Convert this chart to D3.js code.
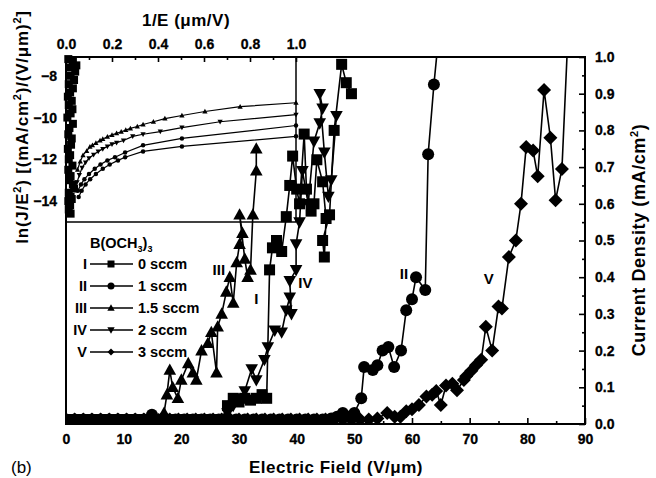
<!DOCTYPE html>
<html lang="en">
<head>
<meta charset="UTF-8">
<title>Field emission B(OCH3)3</title>
<script src="https://d3js.org/d3.v7.min.js"></script>
<style>
body{margin:0;background:#fff;}
svg text{font-family:"Liberation Sans",Arial,sans-serif;font-weight:bold;fill:#000;}
</style>
</head>
<body>
<script>
// ---- main plot: current density (mA/cm2) vs electric field (V/um)
var fieldI = [0,1.5,3,4.5,6,7.5,9,10.5,12,13.5,15,16.5,18,19.5,21,22.5,24,25.5,27,28,29,30,31,32,33,34,34.8,35.3,35.8,36.5,37.4,38.2,38.8,39.3,40,40.5,41.3,41.7,42.5,43,43.5,44.5,45.1,44.8,44.5,45.7,46.5,47.8,48.6,49.5];
var jI = [0.012,0.012,0.012,0.012,0.012,0.012,0.012,0.012,0.012,0.012,0.012,0.012,0.012,0.012,0.012,0.012,0.012,0.012,0.012,0.05,0.07,0.06,0.07,0.065,0.07,0.08,0.07,0.42,0.48,0.5,0.47,0.565,0.65,0.73,0.64,0.6,0.79,0.64,0.58,0.6,0.72,0.66,0.56,0.455,0.5,0.57,0.8,0.98,0.93,0.9];

var fieldII = [0,1.5,3,4.5,6,7.5,9,10.5,12,13.5,14.9,16,17.5,19,20.5,22,23.5,25,26.5,28,29.5,31,32.5,34,35.5,37,38.5,40,41.5,43,44.5,46,47,48,49,50,51.2,51.7,53.2,54,54.9,55.9,56.9,58.1,59,60,60.7,62.3,62.8,63.8,65.2];
var jII = [0.012,0.012,0.012,0.012,0.012,0.012,0.012,0.012,0.012,0.012,0.025,0.012,0.012,0.012,0.012,0.012,0.012,0.012,0.012,0.012,0.012,0.012,0.012,0.012,0.012,0.012,0.012,0.012,0.012,0.012,0.012,0.015,0.02,0.03,0.02,0.03,0.07,0.155,0.147,0.16,0.2,0.21,0.155,0.2,0.31,0.34,0.4,0.365,0.735,0.925,1.15];

var fieldIII = [0,1.5,3,4.5,6,7.5,9,10.5,12,13.5,15,16,17,17.5,18,18.5,19.4,20,21.2,22,22.6,23.5,24.6,25.2,26.1,26.3,27,27.8,28.4,29,29.6,30.1,30.6,30.1,31,31.5,32,32.4,33,33];
var jIII = [0.012,0.012,0.012,0.012,0.012,0.012,0.012,0.012,0.012,0.012,0.012,0.012,0.03,0.08,0.147,0.1,0.07,0.12,0.165,0.14,0.12,0.2,0.22,0.25,0.14,0.265,0.3,0.36,0.4,0.33,0.44,0.49,0.52,0.57,0.45,0.4,0.42,0.57,0.69,0.75];

var fieldIV = [0,1.5,3,4.5,6,7.5,9,10.5,12,13.5,15,16.5,18,19.5,21,22.5,24,25.5,27,28,29,30,31,32.2,33,34.4,35,36.2,37.4,38.2,38.8,39.1,38.8,39.9,39.9,40.5,41,42,43,44,44.5,44,44.8,45.5,46,46.9];
var jIV = [0.012,0.012,0.012,0.012,0.012,0.012,0.012,0.012,0.012,0.012,0.012,0.012,0.012,0.012,0.012,0.012,0.012,0.012,0.012,0.03,0.05,0.07,0.09,0.15,0.12,0.175,0.21,0.255,0.25,0.31,0.345,0.3,0.39,0.42,0.49,0.55,0.69,0.6,0.77,0.82,0.86,0.9,0.74,0.62,0.665,0.84];

var fieldV = [0,1.5,3,4.5,6,7.5,9,10.5,12,13.5,15,16.5,18,19.5,21,22.5,24,25.5,27,28.5,30,31.5,33,34.5,36,37.5,39,40.5,42,43.5,45,46.5,48,49.5,51,52.5,54,55.7,57,58,59,60,61.2,62.5,63.5,64.2,65,65.9,67,67.8,69,69.4,70.3,71.1,72,72.8,73.9,75,75.6,76.8,78,78.9,79.8,81,81.8,82.9,84,84.9,86,87.3];
var jV = [0.012,0.012,0.012,0.012,0.012,0.012,0.012,0.012,0.012,0.012,0.012,0.012,0.012,0.012,0.012,0.012,0.012,0.012,0.012,0.012,0.012,0.012,0.012,0.012,0.012,0.012,0.012,0.012,0.012,0.012,0.012,0.012,0.012,0.012,0.012,0.012,0.015,0.03,0.02,0.02,0.035,0.04,0.052,0.075,0.08,0.09,0.052,0.105,0.11,0.092,0.12,0.13,0.145,0.16,0.175,0.265,0.2,0.32,0.315,0.455,0.5,0.6,0.755,0.745,0.675,0.91,0.78,0.61,0.695,1.15];

// ---- inset: ln(J/E^2) vs 1/E
var invA = [1.0,0.757,0.604,0.504,0.43,0.38,0.335,0.31,0.28,0.26,0.24,0.22,0.2,0.18,0.16,0.148,0.13,0.115,0.104,0.09,0.074,0.062,0.05];
var lnA = [-9.29,-9.48,-9.71,-9.9,-10.05,-10.2,-10.33,-10.43,-10.52,-10.6,-10.68,-10.75,-10.83,-10.92,-11.03,-11.1,-11.22,-11.32,-11.4,-11.6,-11.8,-12.1,-12.5];
var invB = [1.0,0.67,0.504,0.41,0.335,0.29,0.25,0.22,0.2,0.18,0.16,0.14,0.12,0.1,0.085,0.07,0.058,0.048];
var lnB = [-9.86,-10.2,-10.48,-10.67,-10.8,-10.9,-11.1,-11.2,-11.28,-11.38,-11.5,-11.62,-11.78,-11.95,-12.15,-12.4,-12.75,-13.1];
var invC = [1.0,0.504,0.335,0.257,0.213,0.18,0.15,0.125,0.1,0.08,0.065,0.052];
var lnC = [-10.38,-11.0,-11.33,-11.67,-11.9,-12.05,-12.25,-12.45,-12.7,-12.95,-13.2,-13.5];
var invD = [1.0,0.504,0.335,0.257,0.226,0.19,0.16,0.13,0.105,0.085,0.068,0.055];
var lnD = [-10.9,-11.38,-11.62,-11.9,-12.05,-12.25,-12.45,-12.7,-12.95,-13.2,-13.5,-13.8];
// dense cloud at high field (small 1/E)
var invE = [0.01,0.03,0.045,0.015,0.04,0.02,0.035,0.012,0.03,0.018,0.008,0.025,0.012,0.028,0.02,0.006,0.03,0.015,0.01,0.025,0.022,0.008,0.018,0.012,0.028,0.01,0.02,0.015,0.03,0.035,0.012,0.02,0.01,0.025,0.018,0.012,0.02];
var lnE = [-7.2,-7.3,-7.5,-7.6,-7.8,-8.0,-8.2,-8.4,-8.6,-8.8,-9.0,-9.2,-9.4,-9.6,-9.8,-10.0,-10.3,-10.5,-10.8,-11.0,-11.3,-11.5,-11.8,-12.0,-12.3,-12.5,-12.8,-13.0,-13.2,-13.4,-13.6,-13.8,-14.0,-13.9,-14.2,-14.4,-14.6];

var bottomTicks = [0,10,20,30,40,50,60,70,80,90];
var rightTicks = [0,0.1,0.2,0.3,0.4,0.5,0.6,0.7,0.8,0.9,1.0];
var topTicks = [0,0.2,0.4,0.6,0.8,1.0];
var leftTicks = [-8,-10,-12,-14];

var legendNames = ['I','II','III','IV','V'];
var legendText = ['0 sccm','1 sccm','1.5 sccm','2 sccm','3 sccm'];

var width = 656, height = 478;
var svg = d3.select('body').append('svg').attr('width',width).attr('height',height);

var x = d3.scaleLinear().domain([0,90]).range([66,585]);
var y = d3.scaleLinear().domain([0,1]).range([424,57]);
var xi = d3.scaleLinear().domain([0,1]).range([66,296]);
var yi = d3.scaleLinear().domain([-15,-7.1]).range([222,57]);

// marker shapes
function marker(type, s){
    var h = s/2;
    if(type=='square') return 'M'+(-h)+','+(-h)+'h'+s+'v'+s+'h'+(-s)+'Z';
    if(type=='circle') return 'M'+h+',0A'+h+','+h+' 0 1,1 '+(-h)+',0A'+h+','+h+' 0 1,1 '+h+',0Z';
    if(type=='up') return 'M0,'+(-h*1.1)+'L'+(h*1.05)+','+(h*0.8)+'L'+(-h*1.05)+','+(h*0.8)+'Z';
    if(type=='down') return 'M0,'+(h*1.1)+'L'+(h*1.05)+','+(-h*0.8)+'L'+(-h*1.05)+','+(-h*0.8)+'Z';
    if(type=='diamond') return 'M0,'+(-h)+'L'+h+',0L0,'+h+'L'+(-h)+',0Z';
}

svg.append('clipPath').attr('id','clipMain').append('rect')
    .attr('x',66).attr('y',57).attr('width',519).attr('height',367);

var mainSeries = [
    {xs:fieldI, ys:jI, type:'square', size:11},
    {xs:fieldII, ys:jII, type:'circle', size:12},
    {xs:fieldIII, ys:jIII, type:'up', size:12},
    {xs:fieldIV, ys:jIV, type:'down', size:12},
    {xs:fieldV, ys:jV, type:'diamond', size:14}
];

var plot = svg.append('g').attr('clip-path','url(#clipMain)');
var line = d3.line();

mainSeries.forEach(function(s){
    var pts = s.xs.map(function(d,i){ return [x(d), y(s.ys[i])]; });
    plot.append('path').attr('d',line(pts))
        .attr('fill','none').attr('stroke','#000').attr('stroke-width',1.6);
    plot.selectAll(null).data(pts).enter().append('path')
        .attr('transform',function(d){ return 'translate('+d[0]+','+d[1]+')'; })
        .attr('d',marker(s.type,s.size)).attr('fill','#000');
});

// inset
var insetSeries = [
    {xs:invA, ys:lnA, type:'up', size:5},
    {xs:invB, ys:lnB, type:'down', size:5},
    {xs:invC, ys:lnC, type:'circle', size:4.5},
    {xs:invD, ys:lnD, type:'circle', size:4.5},
    {xs:invE, ys:lnE, type:'square', size:8}
];
var inset = svg.append('g');
insetSeries.forEach(function(s){
    var pts = s.xs.map(function(d,i){ return [xi(d), yi(s.ys[i])]; });
    inset.append('path').attr('d',line(pts))
        .attr('fill','none').attr('stroke','#000').attr('stroke-width',1.2);
    inset.selectAll(null).data(pts).enter().append('path')
        .attr('transform',function(d){ return 'translate('+d[0]+','+d[1]+')'; })
        .attr('d',marker(s.type,s.size)).attr('fill','#000');
});
inset.append('line').attr('x1',xi(1)).attr('x2',xi(1)).attr('y1',57).attr('y2',222)
    .attr('stroke','#000').attr('stroke-width',1.5);
inset.append('line').attr('x1',66).attr('x2',xi(1)).attr('y1',222).attr('y2',222)
    .attr('stroke','#000').attr('stroke-width',1.5);

// axes
function styleAxis(g){
    g.select('.domain').remove();
    g.attr('font-family',null).attr('font-size',14);
    g.selectAll('line').attr('stroke-width',1.6);
    g.selectAll('text').attr('stroke','#000').attr('stroke-width',0.3);
}
function minor(gen, vals){
    return gen.tickValues(vals).tickSizeInner(-3).tickSizeOuter(0).tickFormat('');
}

svg.append('g').attr('transform','translate(0,424)')
    .call(d3.axisBottom(x).tickValues(bottomTicks).tickSizeInner(-6).tickSizeOuter(0).tickPadding(10).tickFormat(d3.format('d')))
    .call(styleAxis);
svg.append('g').attr('transform','translate(0,424)')
    .call(minor(d3.axisBottom(x), [5,15,25,35,45,55,65,75,85])).call(styleAxis);

svg.append('g').attr('transform','translate(585,0)')
    .call(d3.axisRight(y).tickValues(rightTicks).tickSizeInner(-6).tickSizeOuter(0).tickPadding(10).tickFormat(d3.format('.1f')))
    .call(styleAxis);
svg.append('g').attr('transform','translate(585,0)')
    .call(minor(d3.axisRight(y), [0.05,0.15,0.25,0.35,0.45,0.55,0.65,0.75,0.85,0.95])).call(styleAxis);

svg.append('g').attr('transform','translate(0,57)')
    .call(d3.axisTop(xi).tickValues(topTicks).tickSizeInner(-5).tickSizeOuter(0).tickPadding(8).tickFormat(d3.format('.1f')))
    .call(styleAxis);
svg.append('g').attr('transform','translate(0,57)')
    .call(minor(d3.axisTop(xi), [0.1,0.3,0.5,0.7,0.9])).call(styleAxis);

svg.append('g').attr('transform','translate(66,0)')
    .call(d3.axisLeft(yi).tickValues(leftTicks).tickSizeInner(-5).tickSizeOuter(0).tickPadding(9).tickFormat(d3.format('d')))
    .call(styleAxis);
svg.append('g').attr('transform','translate(66,0)')
    .call(minor(d3.axisLeft(yi), [-9,-11,-13])).call(styleAxis);

svg.append('rect').attr('x',66).attr('y',57).attr('width',519).attr('height',367)
    .attr('fill','none').attr('stroke','#000').attr('stroke-width',2);

// titles
svg.append('text').attr('x',186).attr('y',26).attr('text-anchor','middle').attr('font-size',17)
    .style('letter-spacing','0.5px').text('1/E (\u03bcm/V)');
svg.append('text').attr('x',336).attr('y',473).attr('text-anchor','middle').attr('font-size',17)
    .style('letter-spacing','0.5px').text('Electric Field (V/\u03bcm)');
svg.append('text').attr('x',11).attr('y',473).attr('font-size',17)
    .style('font-weight','normal').text('(b)');

var lt = svg.append('text').attr('transform','translate(28,127) rotate(-90)')
    .attr('text-anchor','middle').attr('font-size',17).style('letter-spacing','0.8px');
lt.append('tspan').text('ln(J/E');
lt.append('tspan').attr('dy',-7).attr('font-size',11).text('2');
lt.append('tspan').attr('dy',7).text(') [(mA/cm');
lt.append('tspan').attr('dy',-7).attr('font-size',11).text('2');
lt.append('tspan').attr('dy',7).text(')/(V/\u03bcm)');
lt.append('tspan').attr('dy',-7).attr('font-size',11).text('2');
lt.append('tspan').attr('dy',7).text(']');

var rt = svg.append('text').attr('transform','translate(645,240) rotate(-90)')
    .attr('text-anchor','middle').attr('font-size',18).style('letter-spacing','0.6px');
rt.append('tspan').text('Current Density (mA/cm');
rt.append('tspan').attr('dy',-7).attr('font-size',11).text('2');
rt.append('tspan').attr('dy',7).text(')');

// legend
var lg = svg.append('g');
var lgTitle = lg.append('text').attr('x',90).attr('y',248).attr('font-size',14.5);
lgTitle.append('tspan').text('B(OCH');
lgTitle.append('tspan').attr('dy',4).attr('font-size',9).text('3');
lgTitle.append('tspan').attr('dy',-4).text(')');
lgTitle.append('tspan').attr('dy',4).attr('font-size',9).text('3');
var legendTypes = ['square','circle','up','down','diamond'];
legendNames.forEach(function(n,i){
    var cy = 264 + i*22;
    lg.append('text').attr('x',87).attr('y',cy+5).attr('text-anchor','end').attr('font-size',14.5).text(n);
    lg.append('line').attr('x1',90).attr('x2',133).attr('y1',cy).attr('y2',cy)
        .attr('stroke','#000').attr('stroke-width',1.5);
    lg.append('path').attr('transform','translate(111,'+cy+')')
        .attr('d',marker(legendTypes[i],7)).attr('fill','#000');
    lg.append('text').attr('x',138).attr('y',cy+5).attr('font-size',14.5).text(legendText[i]);
});

// curve labels
var curveLabels = [
    {t:'III', e:26.5, j:0.42},
    {t:'I', e:33, j:0.34},
    {t:'IV', e:41.5, j:0.385},
    {t:'II', e:58.6, j:0.41},
    {t:'V', e:73.3, j:0.395}
];
svg.selectAll(null).data(curveLabels).enter().append('text')
    .attr('x',function(d){ return x(d.e); }).attr('y',function(d){ return y(d.j)+5; })
    .attr('text-anchor','middle').attr('font-size',15).text(function(d){ return d.t; });
</script>
</body>
</html>
